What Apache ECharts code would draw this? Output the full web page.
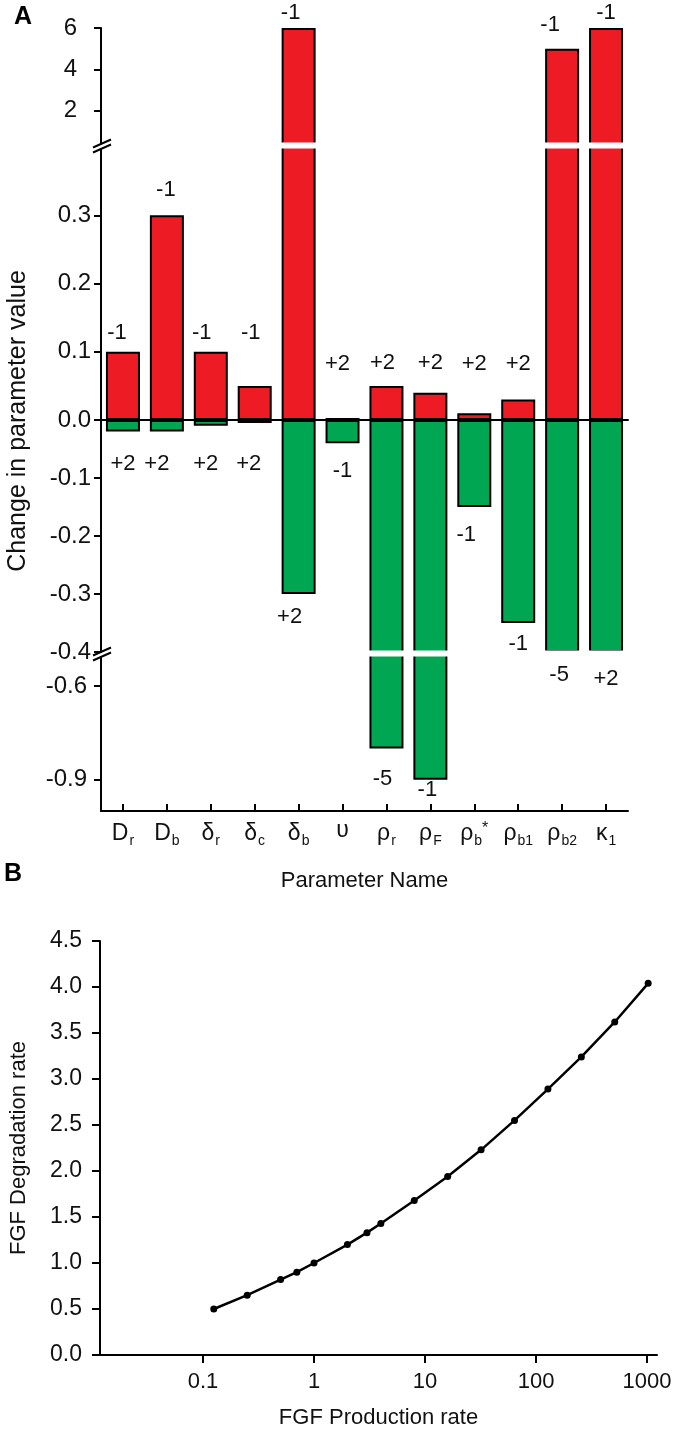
<!DOCTYPE html>
<html>
<head>
<meta charset="utf-8">
<script src="https://cdn.jsdelivr.net/npm/echarts@6.0.0/dist/echarts.min.js"></script>
<style>
  html, body { margin: 0; padding: 0; background: #fff; }
  #chart { width: 685px; height: 1433px; }
</style>
</head>
<body>
<div id="chart"></div>
<script>
// ---- panel A data ----
var paramNames = ['D_r', 'D_b', 'δ_r', 'δ_c', 'δ_b', 'υ', 'ρ_r', 'ρ_F', 'ρ_b*', 'ρ_b1', 'ρ_b2', 'κ_1'];
var increaseChange = [0.1, 0.3, 0.1, 0.05, 6, 0.003, 0.05, 0.04, 0.01, 0.03, 5, 6];
var decreaseChange = [-0.02, -0.02, -0.01, -0.005, -0.3, -0.04, -0.8, -0.9, -0.15, -0.35, -0.4, -0.4];
var increaseTags = ['-1', '-1', '-1', '-1', '-1', '+2', '+2', '+2', '+2', '+2', '-1', '-1'];
var decreaseTags = ['+2', '+2', '+2', '+2', '+2', '-1', '-5', '-1', '-1', '-1', '-5', '+2'];
// tick labels of the four pieces of the broken y axis
var ticksHigh = [2, 4, 6];
var ticksPos = [0, 0.1, 0.2, 0.3];
var ticksNeg = [-0.1, -0.2, -0.3, -0.4];
var ticksLow = [-0.6, -0.9];

// ---- panel B data ----
var productionRate = [0.125, 0.25, 0.5, 0.7, 1, 2, 3, 4, 8, 16, 32, 64, 128, 256, 512, 1024];
var degradationRate = [0.5, 0.65, 0.82, 0.9, 1.0, 1.2, 1.33, 1.43, 1.68, 1.94, 2.23, 2.55, 2.89, 3.24, 3.62, 4.04];
var ticksB = [0.1, 1, 10, 100, 1000];

// label placement (pixels from bar end to label centre), hand placed like the figure
var upRise = [19, 25, 19, 53, 15, 54, 23, 30, 49, 36, 24, 15];
var upDx = [-6, -1, -9, -4, -8, -5, -4, 0, 0, 0, -12, 0];
var downDrop = [32, 32, 38, 41, 23, 28, 30, 10, 28, 21, 23, 27];
var downDx = [0, -10, -5, -6, -9, 0, -4, -3, -8, 0, -3, 0];

var FONT = '"Liberation Sans", Arial, Helvetica, sans-serif';
var RED = '#ED1C24', GREEN = '#00A651';

// pixel layout of the broken axis pieces (top, bottom)
var seg = { high: [28, 144], pos: [147, 420], neg: [420, 652], low: [655, 811] };
var plotL = 101, plotR = 628;

var myChart = echarts.init(document.getElementById('chart'));

function pieceGrid(s) {
  return { left: plotL, width: plotR - plotL, top: s[0], height: s[1] - s[0] };
}

function pieceY(idx, min, max, ticks, margin, fmt) {
  return {
    type: 'value', gridIndex: idx, min: min, max: max,
    axisLine: { show: true, onZero: false, lineStyle: { color: '#000', width: 2 } },
    axisTick: { show: true, length: 7, customValues: ticks, lineStyle: { color: '#000', width: 2 } },
    axisLabel: { customValues: ticks, margin: margin, fontSize: 24, color: '#111', fontFamily: FONT, formatter: fmt },
    splitLine: { show: false }
  };
}

function hiddenX(idx) {
  return {
    type: 'category', gridIndex: idx, data: paramNames,
    axisLine: { show: false }, axisTick: { show: false }, axisLabel: { show: false }
  };
}

function richName(name) {
  var m = name.match(/^([^_*]+)(?:_([^*]+))?(\*)?$/);
  var s = '{b|' + m[1] + '}';
  if (m[2]) s += '{sub|' + m[2] + '}';
  if (m[3]) s += '{sup|*}';
  return s;
}

function barItems(values, tags, visible, shift, dx, up) {
  return values.map(function (v, i) {
    return {
      value: v,
      label: {
        show: visible(v),
        formatter: tags[i],
        offset: up ? [dx[i], -(shift[i] - 11)] : [dx[i], shift[i] - 11]
      }
    };
  });
}

var fixed1 = function (v) { return v.toFixed(1); };

var barBase = {
  type: 'bar', barWidth: 34, clip: true,
  label: { position: 'top', distance: 0, fontSize: 22, color: '#111', fontFamily: FONT }
};

function breakMark(y) {
  return [
    { type: 'rect', z: 100, shape: { x: plotL - 3, y: y - 1, width: 6, height: 4 }, style: { fill: '#fff' } },
    { type: 'line', z: 101, shape: { x1: 93, y1: y + 2, x2: 111, y2: y - 6 }, style: { stroke: '#000', lineWidth: 2 } },
    { type: 'line', z: 101, shape: { x1: 93, y1: y + 7, x2: 111, y2: y - 1 }, style: { stroke: '#000', lineWidth: 2 } }
  ];
}

function gapBand(yTop, yBot) {
  return { type: 'rect', z: 100, shape: { x: plotL + 2, y: yTop - 1.5, width: plotR - plotL - 2, height: yBot - yTop + 3 }, style: { fill: '#fff' } };
}

var option = {
  animation: false,
  textStyle: { fontFamily: FONT },
  grid: [
    pieceGrid(seg.high),
    pieceGrid(seg.pos),
    pieceGrid(seg.neg),
    pieceGrid(seg.low),
    { left: 100, right: 28, top: 941, height: 414 }
  ],
  xAxis: [
    hiddenX(0),
    {
      type: 'category', gridIndex: 1, data: paramNames, z: 10,
      axisLine: { show: true, onZero: false, lineStyle: { color: '#000', width: 2 } },
      axisTick: { show: false }, axisLabel: { show: false }
    },
    hiddenX(2),
    {
      type: 'category', gridIndex: 3, data: paramNames,
      name: 'Parameter Name', nameLocation: 'middle', nameGap: 59,
      nameTextStyle: { fontSize: 22, color: '#111', fontFamily: FONT },
      axisLine: { show: true, onZero: false, lineStyle: { color: '#000', width: 2 } },
      axisTick: { show: true, inside: true, alignWithLabel: true, length: 7, lineStyle: { color: '#000', width: 2 } },
      axisLabel: {
        margin: 8, color: '#111', interval: 0,
        formatter: richName,
        rich: {
          b: { fontSize: 23, fontFamily: FONT, color: '#111' },
          sub: { fontSize: 14, fontFamily: FONT, color: '#111', padding: [15, 0, 0, 1] },
          sup: { fontSize: 16, fontFamily: FONT, color: '#111', padding: [0, 0, 10, 0] }
        }
      }
    },
    {
      type: 'log', gridIndex: 4, logBase: 10, min: 0.0118, max: 1230,
      name: 'FGF Production rate', nameLocation: 'middle', nameGap: 52,
      nameTextStyle: { fontSize: 22, color: '#111', fontFamily: FONT },
      axisLine: { show: true, onZero: false, lineStyle: { color: '#000', width: 2 } },
      axisTick: { show: true, length: 8, customValues: ticksB, lineStyle: { color: '#000', width: 2 } },
      axisLabel: { customValues: ticksB, margin: 16, fontSize: 22, color: '#111', fontFamily: FONT,
        formatter: function (v) { return String(+v.toPrecision(3)); } },
      splitLine: { show: false }
    }
  ],
  yAxis: [
    pieceY(0, 0.4, 6, ticksHigh, 24, function (v) { return String(v); }),
    pieceY(1, 0, 0.4, ticksPos, 10, fixed1),
    pieceY(2, -0.4, 0, ticksNeg, 10, fixed1),
    pieceY(3, -1.0, -0.5, ticksLow, 14, fixed1),
    {
      type: 'value', gridIndex: 4, min: 0, max: 4.5, interval: 0.5,
      name: 'FGF Degradation rate', nameLocation: 'middle', nameGap: 70,
      nameTextStyle: { fontSize: 22, color: '#111', fontFamily: FONT },
      axisLine: { show: true, onZero: false, lineStyle: { color: '#000', width: 2 } },
      axisTick: { show: true, length: 8, lineStyle: { color: '#000', width: 2 } },
      axisLabel: { margin: 18, fontSize: 23, color: '#111', fontFamily: FONT, formatter: fixed1 },
      splitLine: { show: false }
    }
  ],
  series: [
    Object.assign({}, barBase, {
      name: 'increase', xAxisIndex: 0, yAxisIndex: 0,
      itemStyle: { color: RED, borderColor: '#000', borderWidth: 2 },
      data: barItems(increaseChange, increaseTags, function (v) { return v > 0.4; }, upRise, upDx, true)
    }),
    Object.assign({}, barBase, {
      name: 'increase', xAxisIndex: 1, yAxisIndex: 1,
      itemStyle: { color: RED, borderColor: '#000', borderWidth: 2 },
      data: barItems(increaseChange, increaseTags, function (v) { return v <= 0.4; }, upRise, upDx, true)
    }),
    Object.assign({}, barBase, {
      name: 'decrease', xAxisIndex: 2, yAxisIndex: 2,
      label: Object.assign({}, barBase.label, { position: 'bottom' }),
      itemStyle: { color: GREEN, borderColor: '#000', borderWidth: 2 },
      data: barItems(decreaseChange, decreaseTags, function (v) { return v >= -0.5; }, downDrop, downDx, false)
    }),
    Object.assign({}, barBase, {
      name: 'decrease', xAxisIndex: 3, yAxisIndex: 3,
      label: Object.assign({}, barBase.label, { position: 'bottom' }),
      itemStyle: { color: GREEN, borderColor: '#000', borderWidth: 2 },
      data: barItems(decreaseChange, decreaseTags, function (v) { return v < -0.5; }, downDrop, downDx, false)
    }),
    {
      type: 'line', name: 'FGF', xAxisIndex: 4, yAxisIndex: 4,
      symbol: 'circle', symbolSize: 7,
      lineStyle: { color: '#000', width: 2.5 },
      itemStyle: { color: '#000' },
      data: productionRate.map(function (p, i) { return [p, degradationRate[i]]; })
    }
  ],
  graphic: [
    { type: 'text', left: 14, top: 5, z: 100, style: { text: 'A', fontSize: 25, fontWeight: 'bold', fontFamily: FONT, fill: '#000' } },
    { type: 'text', left: 4, top: 862, z: 100, style: { text: 'B', fontSize: 25, fontWeight: 'bold', fontFamily: FONT, fill: '#000' } },
    {
      type: 'text', x: 18, y: 421, rotation: Math.PI / 2, z: 100,
      style: { text: 'Change in parameter value', fontSize: 25, fontFamily: FONT, fill: '#111', align: 'center', verticalAlign: 'middle' }
    },
    gapBand(seg.high[1], seg.pos[0]),
    gapBand(seg.neg[1], seg.low[0])
  ].concat(breakMark((seg.high[1] + seg.pos[0]) / 2), breakMark((seg.neg[1] + seg.low[0]) / 2))
};

myChart.setOption(option);
</script>
</body>
</html>
